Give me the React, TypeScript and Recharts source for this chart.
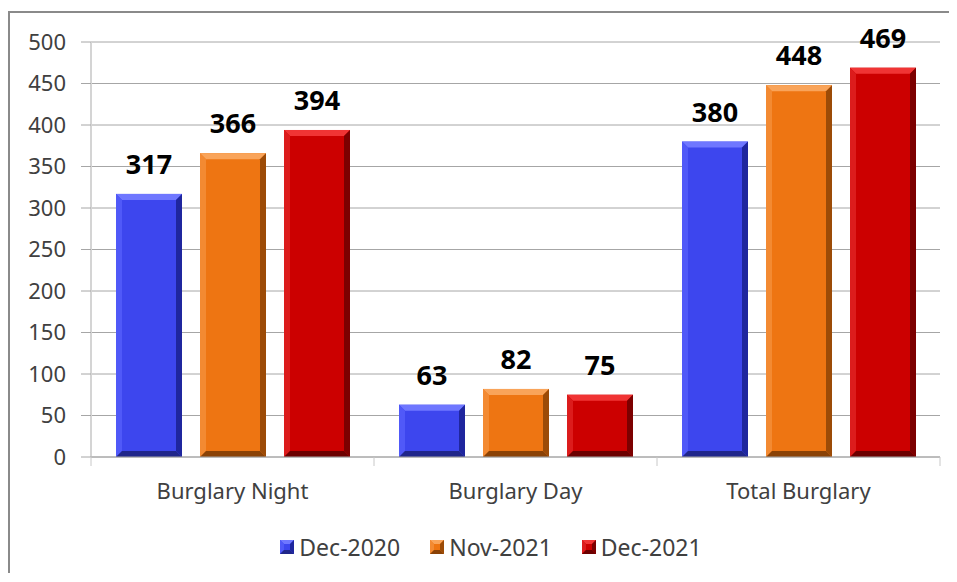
import React from 'react';
import { BarChart, Bar, XAxis, YAxis, CartesianGrid, Legend, LabelList } from 'recharts';

const categories = ['Burglary Night', 'Burglary Day', 'Total Burglary'];
const dec2020 = [317, 63, 380];
const nov2021 = [366, 82, 448];
const dec2021 = [394, 75, 469];
const yTicks = [0, 50, 100, 150, 200, 250, 300, 350, 400, 450, 500];

const seriesNames = ['Dec-2020', 'Nov-2021', 'Dec-2021'];

const data = categories.map((name, i) => ({
  name,
  d20: dec2020[i],
  n21: nov2021[i],
  d21: dec2021[i],
}));

const FONT = '"Noto Sans", sans-serif';

// bevel shades for the 3d look: face, top, left, right, bottom
const palettes: Record<string, string[]> = {
  blue: ['#3d46ee', '#6f77ff', '#5059f8', '#1f269e', '#20268a'],
  orange: ['#ee7512', '#f9a45a', '#f38a32', '#9c4b07', '#8a4206'],
  red: ['#cc0000', '#f03434', '#dc1c1c', '#7c0000', '#6c0000'],
};

const bevelParts = (x: number, y: number, w: number, h: number, b: number, p: string[]) => {
  const bb = Math.min(b, w / 2, h / 2);
  return (
    <g>
      <rect x={x} y={y} width={w} height={h} fill={p[0]} />
      <polygon points={`${x},${y} ${x + w},${y} ${x + w - bb},${y + bb} ${x + bb},${y + bb}`} fill={p[1]} />
      <polygon points={`${x},${y} ${x + bb},${y + bb} ${x + bb},${y + h - bb} ${x},${y + h}`} fill={p[2]} />
      <polygon points={`${x + w},${y} ${x + w},${y + h} ${x + w - bb},${y + h - bb} ${x + w - bb},${y + bb}`} fill={p[3]} />
      <polygon points={`${x},${y + h} ${x + bb},${y + h - bb} ${x + w - bb},${y + h - bb} ${x + w},${y + h}`} fill={p[4]} />
    </g>
  );
};

const makeShape = (key: string) => (props: any) => {
  const { x, y, width, height } = props;
  if (!height || height <= 0) return <g />;
  return bevelParts(x, y, width, height, 6, palettes[key]);
};

const XTick = (props: any) => {
  const { x, y, payload, index } = props;
  const off = payload.offset || 0;
  return (
    <g>
      <line x1={x - off} y1={y} x2={x - off} y2={y + 9} stroke="#c8c8c8" />
      {index === categories.length - 1 && (
        <line x1={x + off} y1={y} x2={x + off} y2={y + 9} stroke="#c8c8c8" />
      )}
      <text x={x} y={y + 42} textAnchor="middle" fontFamily={FONT} fontSize={22} fill="#404040">
        {payload.value}
      </text>
    </g>
  );
};

const LegendContent = () => {
  const keys = ['blue', 'orange', 'red'];
  return (
    <div style={{ display: 'flex', justifyContent: 'center', paddingLeft: 32, fontFamily: FONT, fontSize: 23, color: '#404040', height: 30, alignItems: 'center' }}>
      {seriesNames.map((s, i) => (
        <div key={s} style={{ display: 'flex', alignItems: 'center', marginRight: i < 2 ? 30 : 0 }}>
          <svg width={14} height={14} style={{ marginRight: 5 }}>
            {bevelParts(0, 0, 14, 14, 4, palettes[keys[i]])}
          </svg>
          <span>{s}</span>
        </div>
      ))}
    </div>
  );
};

export default function App() {
  return (
    <div style={{ paddingTop: 3 }}>
      <div style={{ width: 939, height: 560, borderLeft: '2px solid #8a8a8a', borderTop: '2px solid #8a8a8a', background: '#fff' }}>
        <BarChart
          width={939}
          height={560}
          data={data}
          margin={{ top: 29, right: 9, left: 0, bottom: 11 }}
          barCategoryGap={25}
          barGap={18}
        >
          <CartesianGrid vertical={false} stroke="#a6a6a6" />
          <YAxis
            width={81}
            domain={[0, 500]}
            ticks={yTicks}
            interval={0}
            tickSize={10}
            tickMargin={15}
            tickLine={{ stroke: '#a6a6a6' }}
            axisLine={{ stroke: '#d4d4d4', strokeWidth: 2 }}
            tick={{ fontFamily: FONT, fontSize: 22, fill: '#404040' }}
          />
          <XAxis
            dataKey="name"
            height={75}
            tickLine={false}
            tickSize={0}
            tickMargin={0}
            axisLine={{ stroke: '#a6a6a6' }}
            tick={<XTick />}
            interval={0}
          />
          <Legend verticalAlign="bottom" height={30} content={<LegendContent />} />
          <Bar dataKey="d20" name={seriesNames[0]} isAnimationActive={false} shape={makeShape('blue')}>
            <LabelList dataKey="d20" position="top" offset={20} fontFamily={FONT} fontSize={27} fontWeight="bold" fill="#000" />
          </Bar>
          <Bar dataKey="n21" name={seriesNames[1]} isAnimationActive={false} shape={makeShape('orange')}>
            <LabelList dataKey="n21" position="top" offset={20} fontFamily={FONT} fontSize={27} fontWeight="bold" fill="#000" />
          </Bar>
          <Bar dataKey="d21" name={seriesNames[2]} isAnimationActive={false} shape={makeShape('red')}>
            <LabelList dataKey="d21" position="top" offset={20} fontFamily={FONT} fontSize={27} fontWeight="bold" fill="#000" />
          </Bar>
        </BarChart>
      </div>
    </div>
  );
}
